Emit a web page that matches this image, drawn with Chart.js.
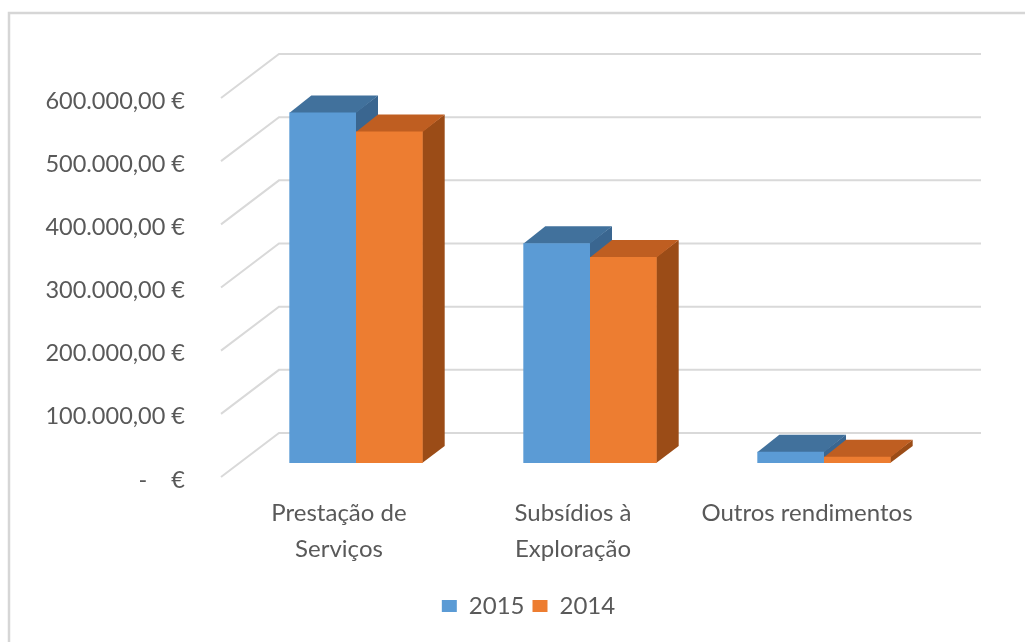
<!DOCTYPE html>
<html>
<head>
<meta charset="utf-8">
<script src="https://cdn.jsdelivr.net/npm/chart.js@4/dist/chart.umd.min.js"></script>
<style>
  html, body { margin: 0; padding: 0; background: #ffffff; }
  #wrap { position: relative; width: 1025px; height: 642px; }
</style>
</head>
<body>
<div id="wrap"><canvas id="c" width="1025" height="642"></canvas></div>
<script>
// ---- data ----
const categories = [['Prestação de', 'Serviços'], ['Subsídios à', 'Exploração'], 'Outros rendimentos'];
const seriesNames = ['2015', '2014'];
const values2015 = [555000, 348000, 18000];
const values2014 = [525000, 326000, 10000];
const yTickValues = [0, 100000, 200000, 300000, 400000, 500000, 600000];
const yTickLabels = ['-    €', '100.000,00 €', '200.000,00 €', '300.000,00 €', '400.000,00 €', '500.000,00 €', '600.000,00 €'];

// ---- styles ----
const FONT = 'Lato, "Open Sans", "DejaVu Sans", sans-serif';
const TEXT = '#595959';
const GRID = '#D9D9D9';
const frontColors = ['#5B9BD5', '#ED7D31'];
const topColors = ['#41719C', '#BF5E21'];
const sideColors = ['#3A6690', '#9B4C17'];
const DEPTH = { dx: 22, dy: -17 };        // bar depth
const BACK = { dx: 40, dy: -30 };         // bar plane -> back wall
const FRONT = { dx: -18, dy: 14 };        // bar plane -> front edge of side wall
const LEGEND_SHIFT = 38;

const threeD = {
  id: 'threeD',
  afterLayout(chart) {
    if (chart.legend) {
      chart.legend.left += LEGEND_SHIFT;
      chart.legend.right += LEGEND_SHIFT;
    }
  },
  beforeDraw(chart) {
    const ctx = chart.ctx;
    ctx.save();
    ctx.strokeStyle = '#D6D6D6';
    ctx.lineWidth = 2.5;
    ctx.beginPath();
    ctx.moveTo(9, 642);
    ctx.lineTo(9, 13);
    ctx.lineTo(1025, 13);
    ctx.stroke();
    ctx.restore();
  },
  beforeDatasetsDraw(chart) {
    const ctx = chart.ctx;
    const ys = chart.scales.y;
    const L = chart.chartArea.left, R = chart.chartArea.right;
    ctx.save();
    ctx.strokeStyle = GRID;
    ctx.lineWidth = 2;
    yTickValues.forEach(v => {
      const y = ys.getPixelForValue(v);
      ctx.beginPath();
      ctx.moveTo(L + FRONT.dx, y + FRONT.dy);
      ctx.lineTo(L + BACK.dx, y + BACK.dy);
      ctx.lineTo(R + BACK.dx, y + BACK.dy);
      ctx.stroke();
    });
    // 3D side + top faces (fronts are drawn by Chart.js on top)
    chart.data.datasets.forEach((ds, di) => {
      const meta = chart.getDatasetMeta(di);
      meta.data.forEach(el => {
        const p = el.getProps(['x', 'y', 'base', 'width'], true);
        const l = p.x - p.width / 2, r = p.x + p.width / 2;
        const t = Math.min(p.y, p.base), b = Math.max(p.y, p.base);
        ctx.fillStyle = sideColors[di];
        ctx.beginPath();
        ctx.moveTo(r - 0.5, t);
        ctx.lineTo(r + DEPTH.dx, t + DEPTH.dy);
        ctx.lineTo(r + DEPTH.dx, b + DEPTH.dy);
        ctx.lineTo(r - 0.5, b);
        ctx.closePath();
        ctx.fill();
        ctx.fillStyle = topColors[di];
        ctx.beginPath();
        ctx.moveTo(l, t + 0.5);
        ctx.lineTo(r, t + 0.5);
        ctx.lineTo(r + DEPTH.dx, t + DEPTH.dy);
        ctx.lineTo(l + DEPTH.dx, t + DEPTH.dy);
        ctx.closePath();
        ctx.fill();
      });
    });
    ctx.restore();
  }
};

new Chart(document.getElementById('c'), {
  type: 'bar',
  data: {
    labels: categories,
    datasets: [
      { label: seriesNames[0], data: values2015, backgroundColor: frontColors[0], borderWidth: 0 },
      { label: seriesNames[1], data: values2014, backgroundColor: frontColors[1], borderWidth: 0 }
    ]
  },
  options: {
    responsive: false,
    animation: false,
    devicePixelRatio: 1,
    layout: { padding: { left: 40, right: 84, top: 84, bottom: 14 } },
    datasets: { bar: { categoryPercentage: 0.57, barPercentage: 1.0 } },
    plugins: {
      tooltip: { enabled: false },
      legend: {
        position: 'bottom',
        labels: {
          color: TEXT,
          font: { family: FONT, size: 24 },
          boxWidth: 15,
          boxHeight: 12,
          padding: 8
        }
      }
    },
    scales: {
      x: {
        grid: { display: false },
        border: { display: false },
        ticks: {
          color: TEXT,
          font: { family: FONT, size: 24, lineHeight: 1.5 },
          padding: 24,
          labelOffset: -17,
          maxRotation: 0,
          autoSkip: false
        },
        afterFit(s) { s.height = 123; }
      },
      y: {
        min: 0,
        max: 600000,
        grid: { display: false },
        border: { display: false },
        afterBuildTicks(s) { s.ticks = yTickValues.map(v => ({ value: v })); },
        afterFit(s) { s.width = 199; },
        ticks: {
          color: TEXT,
          font: { family: FONT, size: 23.5 },
          padding: 46,
          labelOffset: 17,
          autoSkip: false,
          callback(value) {
            const i = yTickValues.indexOf(value);
            return i >= 0 ? yTickLabels[i] : '';
          }
        }
      }
    }
  },
  plugins: [threeD]
});
</script>
</body>
</html>
